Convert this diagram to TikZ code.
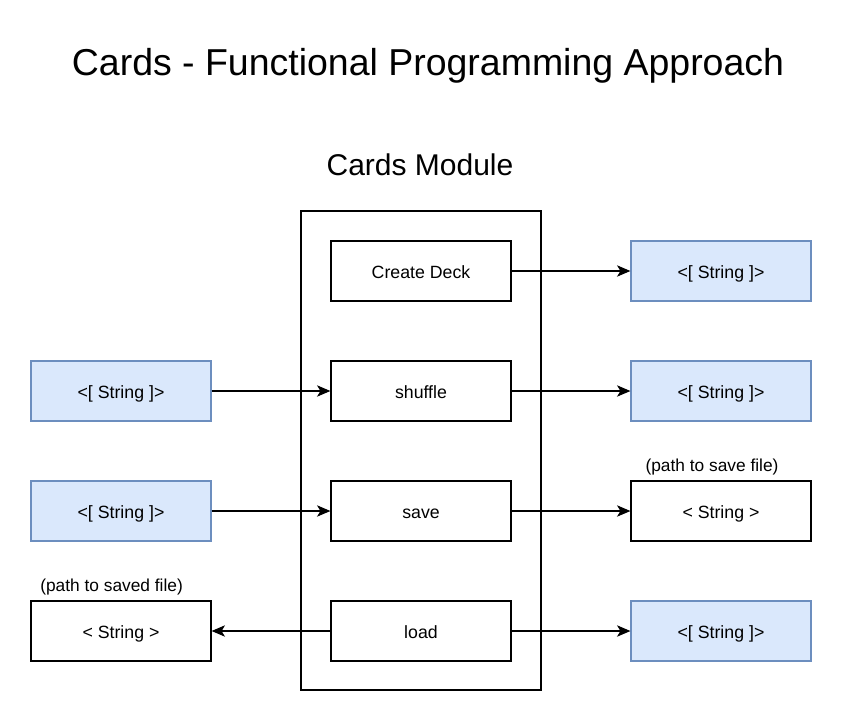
\documentclass[tikz,border=0pt]{standalone}
\usepackage{fontspec}
\setmainfont{Liberation Sans}
\usetikzlibrary{arrows.meta}
\definecolor{bluefill}{HTML}{DAE8FC}
\definecolor{blueline}{HTML}{6C8EBF}
\begin{document}
\begin{tikzpicture}[x=0.75pt,y=-0.75pt,
  box/.style={draw=black,line width=0.9pt,minimum width=135pt,minimum height=45pt,inner sep=0pt,text height=12.5pt,text depth=2pt,font=\fontsize{13.3}{15}\selectfont},
  bluebox/.style={box,draw=blueline,fill=bluefill},
  conn/.style={line width=0.9pt,-{Stealth[length=10pt,width=8.5pt,inset=2.5pt]}},
  note/.style={font=\fontsize{13}{15}\selectfont,inner sep=0pt}]
\useasboundingbox (0,0) rectangle (842,722);
\node[font=\fontsize{28.1}{32}\selectfont] (title) at (428,66) {Cards - Functional Programming Approach};
\node[font=\fontsize{22.5}{26}\selectfont] (modlabel) at (420,165) {Cards Module};
\node[draw=black,line width=0.9pt,minimum width=180pt,minimum height=359.25pt,inner sep=0pt] (module) at (421,450.5) {};
\node[box] (create) at (421,271) {Create Deck};
\node[box] (shuffle) at (421,391) {shuffle};
\node[box] (save) at (421,511) {save};
\node[box] (load) at (421,631) {load};
\node[bluebox] (r1) at (721,271) {<[ String ]>};
\node[bluebox] (r2) at (721,391) {<[ String ]>};
\node[box] (r3) at (721,511) {< String >};
\node[bluebox] (r4) at (721,631) {<[ String ]>};
\node[bluebox] (l2) at (121,391) {<[ String ]>};
\node[bluebox] (l3) at (121,511) {<[ String ]>};
\node[box] (l4) at (121,631) {< String >};
\node[note] (n3) at (712,467) {(path to save file)};
\node[note,anchor=west] (n4) at (40,587) {(path to saved file)};
\draw[conn] (create) -- (r1);
\draw[conn] (l2) -- (shuffle);
\draw[conn] (shuffle) -- (r2);
\draw[conn] (l3) -- (save);
\draw[conn] (save) -- (r3);
\draw[conn] (load) -- (l4);
\draw[conn] (load) -- (r4);
\end{tikzpicture}
\end{document}
